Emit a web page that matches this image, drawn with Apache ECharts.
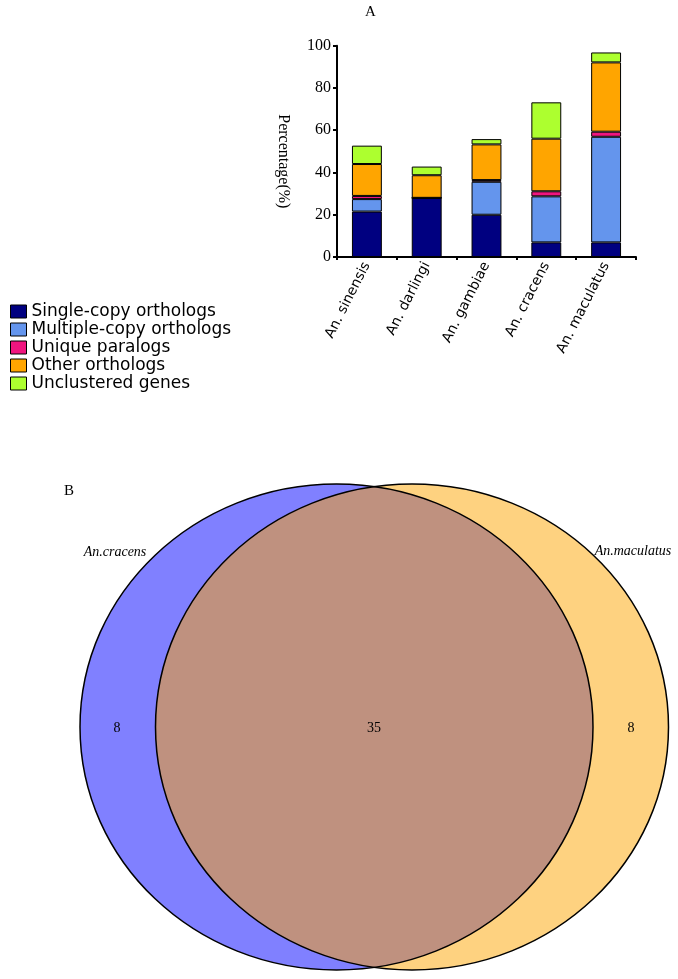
<!DOCTYPE html>
<html>
<head>
<meta charset="utf-8">
<script src="https://cdn.jsdelivr.net/npm/echarts@6/dist/echarts.min.js"></script>
<style>
html,body{margin:0;padding:0;background:#fff;}
#chart{width:678px;height:979px;}
</style>
</head>
<body>
<div id="chart"></div>
<script>
// ---- Panel A data ----
const species = ['An. sinensis', 'An. darlingi', 'An. gambiae', 'An. cracens', 'An. maculatus'];
const seriesNames = ['Single-copy orthologs', 'Multiple-copy orthologs', 'Unique paralogs', 'Other orthologs', 'Unclustered genes'];
const singleCopy   = [21.5, 28.0, 20.0, 6.9, 6.9];
const multipleCopy = [5.9, 0.0, 15.6, 21.8, 50.0];
const uniqueParalogs = [1.5, 0.0, 0.8, 2.4, 2.4];
const otherOrthologs = [15.1, 10.7, 16.9, 24.9, 32.8];
const unclustered  = [8.7, 4.1, 2.5, 17.2, 4.7];
const yTicks = [0, 20, 40, 60, 80, 100];

// ---- Panel B data ----
const vennSets = ['An.cracens', 'An.maculatus'];
const vennCounts = [8, 35, 8]; // only cracens, shared, only maculatus

const colors = ['#000080', '#6495ED', '#F0157F', '#FFA500', '#ADFF2F'];
const seriesData = [singleCopy, multipleCopy, uniqueParalogs, otherOrthologs, unclustered];

const chart = echarts.init(document.getElementById('chart'));

// Venn layout
const L = {cx: 336.5, cy: 727, rx: 256.5, ry: 243};
const R = {cx: 412, cy: 727, rx: 256.5, ry: 243};
const ix = (L.cx + R.cx) / 2;
const tMax = Math.asin(Math.sqrt(1 - Math.pow((ix - L.cx) / L.rx, 2)));
const lensPts = [];
const N = 120;
for (let k = 0; k <= N; k++) {
  const t = -tMax + 2 * tMax * k / N;
  lensPts.push([L.cx + L.rx * Math.cos(t), L.cy + L.ry * Math.sin(t)]);
}
for (let k = 0; k <= N; k++) {
  const t = tMax - 2 * tMax * k / N;
  lensPts.push([R.cx - R.rx * Math.cos(t), R.cy + R.ry * Math.sin(t)]);
}

const serif = '"Liberation Serif", "Times New Roman", serif';

const option = {
  backgroundColor: '#fff',
  animation: false,
  color: colors,
  grid: {left: 337, right: 42, top: 45.7, bottom: 722, containLabel: false},
  legend: {
    orient: 'vertical', left: 5, top: 298,
    itemWidth: 16, itemHeight: 13, itemGap: 1,
    icon: 'rect',
    itemStyle: {borderColor: '#000', borderWidth: 1},
    textStyle: {fontFamily: '"DejaVu Sans", sans-serif', fontSize: 17, color: '#000', lineHeight: 14},
    data: seriesNames
  },
  xAxis: {
    type: 'category', data: species,
    axisLine: {lineStyle: {color: '#000', width: 2}},
    axisTick: {show: true, length: 3, lineStyle: {color: '#000', width: 2}},
    axisLabel: {rotate: 63, fontFamily: '"DejaVu Sans", sans-serif', fontSize: 14, color: '#000', margin: 6, interval: 0}
  },
  yAxis: {
    type: 'value', min: 0, max: 100, interval: 20,
    name: 'Percentage(%)', nameLocation: 'middle', nameGap: 46, nameRotate: -90,
    nameTextStyle: {fontFamily: serif, fontSize: 16, color: '#000', padding: [0, 0, 0, 20]},
    axisLine: {show: true, lineStyle: {color: '#000', width: 2}},
    axisTick: {show: true, length: 4, lineStyle: {color: '#000', width: 2}},
    splitLine: {show: false},
    axisLabel: {fontFamily: serif, fontSize: 16, color: '#000', margin: 6,
      formatter: v => yTicks.includes(v) ? String(v) : ''}
  },
  series: seriesNames.map((n, i) => ({
    name: n, type: 'bar', stack: 'total', barWidth: '50%',
    data: seriesData[i],
    itemStyle: {color: colors[i], borderColor: '#000', borderWidth: 1}
  })),
  graphic: [
    {type: 'text', x: 365, y: 5, style: {text: 'A', font: '15px ' + serif, fill: '#000'}},
    {type: 'text', x: 64, y: 484, style: {text: 'B', font: '15px ' + serif, fill: '#000'}},
    {type: 'ellipse', shape: {cx: L.cx, cy: L.cy, rx: L.rx, ry: L.ry}, style: {fill: '#8080FF', stroke: null}, z: 1},
    {type: 'ellipse', shape: {cx: R.cx, cy: R.cy, rx: R.rx, ry: R.ry}, style: {fill: '#FED280', stroke: null}, z: 2},
    {type: 'polygon', shape: {points: lensPts}, style: {fill: '#BF917F', stroke: null}, z: 3},
    {type: 'ellipse', shape: {cx: L.cx, cy: L.cy, rx: L.rx, ry: L.ry}, style: {fill: 'none', stroke: '#000', lineWidth: 1.5}, z: 4},
    {type: 'ellipse', shape: {cx: R.cx, cy: R.cy, rx: R.rx, ry: R.ry}, style: {fill: 'none', stroke: '#000', lineWidth: 1.5}, z: 4},
    {type: 'text', x: 115, y: 552, z: 5, style: {text: vennSets[0], font: 'italic 14px ' + serif, fill: '#000', align: 'center', verticalAlign: 'middle'}},
    {type: 'text', x: 633, y: 551, z: 5, style: {text: vennSets[1], font: 'italic 14px ' + serif, fill: '#000', align: 'center', verticalAlign: 'middle'}},
    {type: 'text', x: 117, y: 728, z: 5, style: {text: String(vennCounts[0]), font: '14px ' + serif, fill: '#000', align: 'center', verticalAlign: 'middle'}},
    {type: 'text', x: 374, y: 728, z: 5, style: {text: String(vennCounts[1]), font: '14px ' + serif, fill: '#000', align: 'center', verticalAlign: 'middle'}},
    {type: 'text', x: 631, y: 728, z: 5, style: {text: String(vennCounts[2]), font: '14px ' + serif, fill: '#000', align: 'center', verticalAlign: 'middle'}}
  ]
};
chart.setOption(option);
</script>
</body>
</html>
